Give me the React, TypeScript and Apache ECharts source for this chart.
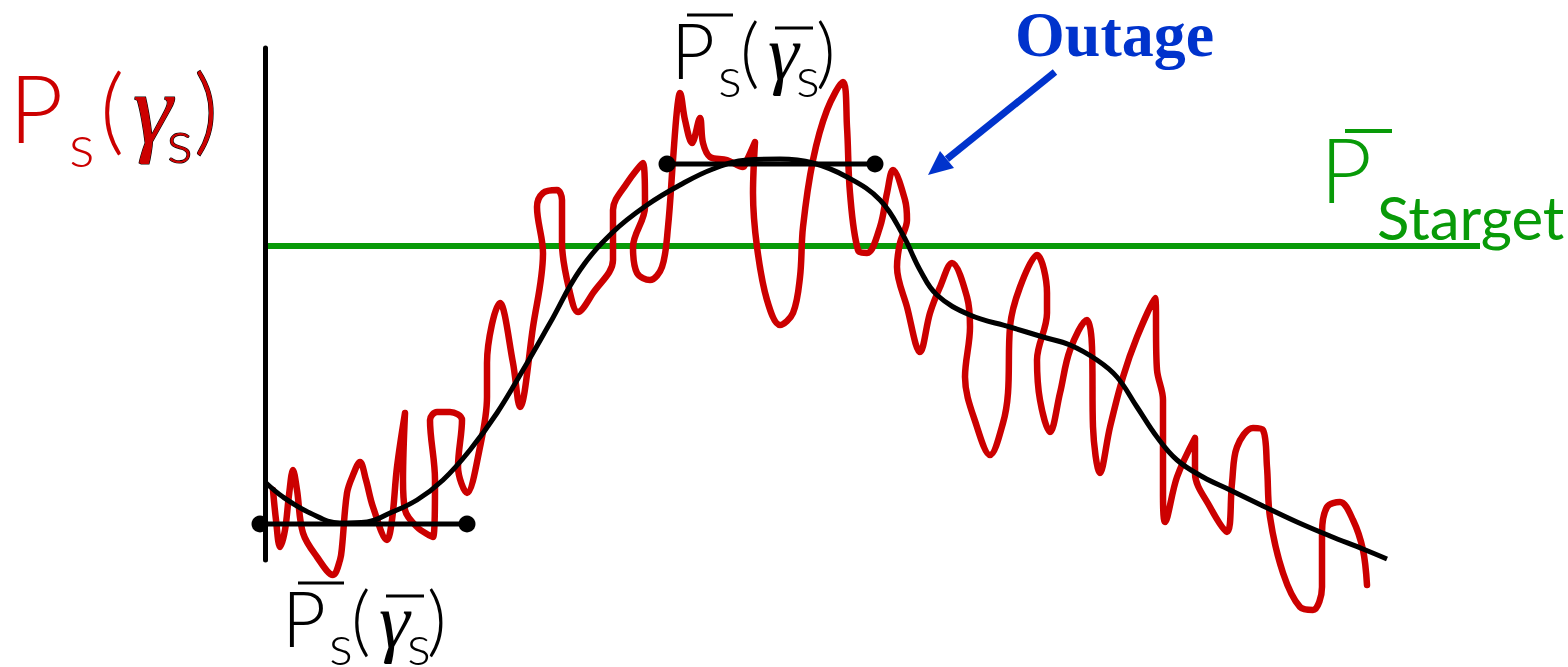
import React, { useEffect, useRef } from "react";
import * as echarts from "echarts";

// Fluctuating received power P_s(γ_s) (parametric trace, γ units, power units)
const redCurve: [number, number][] = [
  [8, 70], [11, 40], [15, 13], [20, 30], [24, 65], [28, 90], [32, 70], [38, 27],
  [52, 3], [68, -15], [75, 0], [77, 13], [82, 67], [88, 85], [95, 98], [101, 80],
  [108, 53], [122, 20], [127, 40], [132, 93], [140, 147], [138, 80], [140, 50],
  [152, 33], [168, 23], [170, 80], [165, 140], [172, 148], [185, 148], [197, 140],
  [193, 93], [202, 67], [215, 113], [222, 163], [222, 197], [235, 257], [248, 197],
  [255, 153], [268, 233], [278, 307], [272, 353], [278, 367], [292, 370], [297, 360],
  [297, 317], [305, 267], [313, 248], [328, 267], [348, 300], [348, 350], [362, 377],
  [378, 397], [380, 353], [368, 313], [372, 287], [385, 280], [397, 293], [403, 333],
  [408, 400], [412, 450], [415, 467], [420, 440], [427, 417], [435, 442], [438, 417],
  [445, 403], [462, 400], [478, 393], [482, 400], [490, 418], [488, 367], [492, 313],
  [502, 260], [515, 235], [528, 247], [535, 283], [538, 333], [548, 400], [562, 450],
  [578, 478], [582, 433], [585, 367], [593, 310], [602, 307], [615, 333], [622, 367],
  [628, 390], [640, 360], [642, 340], [635, 317], [632, 293], [642, 253], [655, 208],
  [665, 247], [675, 273], [687, 297], [702, 263], [705, 233], [700, 183], [712, 133],
  [725, 105], [738, 137], [743, 167], [745, 233], [755, 273], [772, 305], [782, 267],
  [782, 247], [772, 200], [775, 160], [785, 128], [795, 167], [805, 210], [822, 240],
  [827, 213], [828, 133], [835, 87], [845, 133], [858, 183], [872, 223], [890, 262],
  [892, 190], [898, 160], [898, 70], [900, 38], [912, 83], [930, 122], [930, 87],
  [945, 53], [962, 28], [967, 77], [972, 113], [988, 132], [998, 130], [1002, 93],
  [1005, 43], [1018, -13], [1035, -47], [1048, -50], [1057, -27], [1057, 27],
  [1062, 53], [1075, 58], [1088, 40], [1098, 10], [1102, -25],
];

// Average (local mean) power curve
const meanCurve: [number, number][] = [
  [0, 78], [18, 63], [45, 47], [75, 37], [102, 38], [125, 47], [152, 60], [178, 80],
  [205, 110], [232, 147], [258, 190], [285, 237], [315, 290], [348, 328], [382, 355],
  [415, 375], [448, 391], [482, 400], [515, 401], [548, 397], [582, 383], [615, 360],
  [638, 325], [655, 290], [672, 265], [705, 245], [745, 233], [778, 223], [805, 215],
  [832, 200], [852, 183], [872, 153], [892, 123], [912, 100], [938, 83], [965, 70],
  [998, 54], [1032, 38], [1065, 24], [1098, 11], [1122, 1],
];

const targetLevel = 314;
const targetSpan = [3, 1215];
const lowMeanSegment: [number, number][] = [[-5, 36], [202, 36]];
const highMeanSegment: [number, number][] = [[402, 396], [610, 396]];

const RED = "#cc0000";
const GREEN = "#089a08";
const BLUE = "#0033cc";

// central-baseline offset factor per family
const K: Record<string, number> = { Lato: 0.387, "Liberation Serif": 0.3375 };

function txt(
  text: string,
  x: number,
  baseline: number,
  size: number,
  color: string,
  family: string,
  extra: any = {}
) {
  return {
    type: "text",
    x,
    y: baseline - (K[family] ?? 0.35) * size,
    silent: true,
    style: {
      text,
      fill: color,
      fontSize: size,
      fontFamily: family,
      fontWeight: extra.fontWeight ?? 300,
      fontStyle: extra.fontStyle ?? "normal",
      align: "left",
      verticalAlign: "middle",
      lineHeight: size,
      ...(extra.stroke ? { stroke: extra.stroke, lineWidth: extra.lineWidth ?? 1.5 } : {}),
    },
  };
}

function bar(x1: number, x2: number, y: number, color: string, w: number) {
  return {
    type: "line",
    silent: true,
    shape: { x1, y1: y, x2, y2: y },
    style: { stroke: color, lineWidth: w },
  };
}

function meanLabel(dx: number, dy: number) {
  return [
    bar(687 + dx, 733 + dx, 15 + dy, "#000", 3),
    txt("P", 671 + dx, 79 + dy, 76, "#000", "Lato"),
    txt("s", 718 + dx, 97 + dy, 56, "#000", "Lato"),
    txt("(", 740 + dx, 79 + dy, 76, "#000", "Lato"),
    bar(775 + dx, 813 + dx, 28 + dy, "#000", 3),
    txt("γ", 768 + dx, 79 + dy, 78, "#000", "Liberation Serif", { fontStyle: "italic", fontWeight: "normal" }),
    txt("s", 796 + dx, 97 + dy, 56, "#000", "Lato"),
    txt(")", 816 + dx, 79 + dy, 76, "#000", "Lato"),
  ];
}

export default function App() {
  const ref = useRef<HTMLDivElement>(null);
  useEffect(() => {
    const chart = echarts.init(ref.current!, null, { renderer: "svg" });
    chart.setOption({
      animation: false,
      backgroundColor: "#fff",
      grid: { left: 265, top: 48, width: 1215, height: 512 },
      xAxis: {
        type: "value",
        min: 0,
        max: 1215,
        axisLine: { show: false },
        axisTick: { show: false },
        axisLabel: { show: false },
        splitLine: { show: false },
      },
      yAxis: {
        type: "value",
        min: 0,
        max: 512,
        axisLine: { show: true, onZero: false, lineStyle: { color: "#000", width: 5 } },
        axisTick: { show: false },
        axisLabel: { show: false },
        splitLine: { show: false },
      },
      series: [
        {
          type: "line",
          data: [[targetSpan[0], targetLevel], [targetSpan[1], targetLevel]],
          symbol: "none",
          lineStyle: { color: GREEN, width: 6 },
          silent: true,
        },
        {
          type: "line",
          data: redCurve,
          symbol: "none",
          smooth: 0.35,
          clip: false,
          lineStyle: { color: RED, width: 6.5, cap: "round", join: "round" },
          silent: true,
        },
        {
          type: "line",
          data: meanCurve,
          symbol: "none",
          smooth: 0.4,
          clip: false,
          lineStyle: { color: "#000", width: 5 },
          silent: true,
        },
        {
          type: "line",
          data: lowMeanSegment,
          symbol: "circle",
          symbolSize: 17,
          clip: false,
          itemStyle: { color: "#000" },
          lineStyle: { color: "#000", width: 5 },
          silent: true,
        },
        {
          type: "line",
          data: highMeanSegment,
          symbol: "circle",
          symbolSize: 17,
          clip: false,
          itemStyle: { color: "#000" },
          lineStyle: { color: "#000", width: 5 },
          silent: true,
        },
      ],
      graphic: [
        // P_s(γ_s) red label
        txt("P", 9, 143, 94, RED, "Lato"),
        txt("s", 69, 167, 60, RED, "Lato"),
        txt("(", 100, 143, 94, RED, "Lato"),
        txt("γ", 133, 143, 100, RED, "Liberation Serif", { fontStyle: "italic", fontWeight: "normal", stroke: "#000", lineWidth: 1.2 }),
        txt("s", 167, 163, 60, RED, "Lato", { stroke: "#000", lineWidth: 1.2 }),
        txt(")", 194, 143, 94, RED, "Lato", { stroke: "#000", lineWidth: 1.2 }),
        // mean labels
        ...meanLabel(0, 0),
        ...meanLabel(-389, 568),
        // target label
        bar(1345, 1392, 131, GREEN, 4),
        txt("P", 1320, 203, 90, GREEN, "Lato"),
        txt("Starget", 1377, 240, 60, GREEN, "Lato", { fontWeight: "normal" }),
        // Outage annotation
        txt("Outage", 1015, 56, 64, BLUE, "Liberation Serif", { fontWeight: "bold" }),
        {
          type: "line",
          silent: true,
          shape: { x1: 1055, y1: 72, x2: 947, y2: 159 },
          style: { stroke: BLUE, lineWidth: 7 },
        },
        {
          type: "polygon",
          silent: true,
          shape: { points: [[928, 175], [954, 168], [940, 151]] },
          style: { fill: BLUE },
        },
      ],
    });
    return () => chart.dispose();
  }, []);
  return (
    <div
      ref={ref}
      style={{ position: "fixed", left: 0, top: 0, width: 1568, height: 667, background: "#fff" }}
    />
  );
}
